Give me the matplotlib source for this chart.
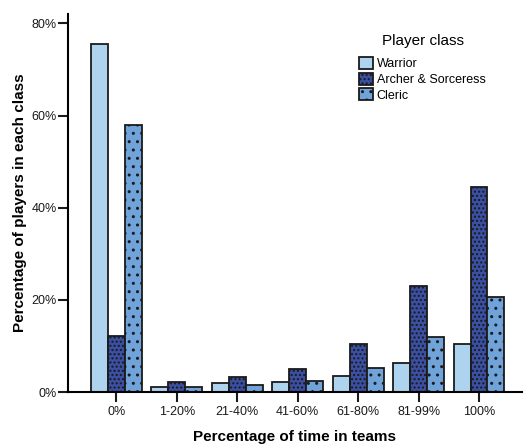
import numpy as np
import matplotlib.pyplot as plt
from matplotlib.ticker import PercentFormatter

plt.rcParams['font.family'] = ['Liberation Sans', 'DejaVu Sans']
plt.rcParams['hatch.linewidth'] = 1.0

categories = ['0%', '1-20%', '21-40%', '41-60%', '61-80%', '81-99%', '100%']
warrior = [75.5, 1.0, 1.9, 2.2, 3.4, 6.2, 10.5]
archer = [12.1, 2.2, 3.2, 5.0, 10.4, 23.1, 44.4]
cleric = [57.9, 1.0, 1.5, 2.5, 5.2, 11.9, 20.6]

series = [
    ('Warrior', warrior, '#aed3ef', None),
    ('Archer & Sorceress', archer, '#3b50a3', '....'),
    ('Cleric', cleric, '#6fa3da', '..'),
]

fig = plt.figure(figsize=(5.26, 4.44), dpi=100)
ax = fig.add_axes([0.1293, 0.117, 0.863, 0.851])

x = np.arange(len(categories))
w = 0.28
for i, (name, vals, color, hatch) in enumerate(series):
    ax.bar(x + (i - 1) * w, vals, w, color=color, edgecolor='#1a1a1a',
           linewidth=1.3, hatch=hatch, label=name)

ax.set_xlim(-0.8, 6.71)
ax.set_ylim(0, 82)
ax.set_yticks([0, 20, 40, 60, 80])
ax.yaxis.set_major_formatter(PercentFormatter(decimals=0))
ax.set_xticks(x)
ax.set_xticklabels(categories)

for side in ['top', 'right']:
    ax.spines[side].set_visible(False)
for side in ['left', 'bottom']:
    ax.spines[side].set_linewidth(1.5)
ax.tick_params(axis='both', length=7, width=1.5, labelsize=9, colors='#1a1a1a')
ax.tick_params(axis='x', pad=3)
ax.tick_params(axis='y', pad=1)

ax.set_xlabel('Percentage of time in teams', fontsize=11, fontweight='bold', labelpad=9)
ax.set_ylabel('Percentage of players in each class', fontsize=11, fontweight='bold', labelpad=3)

leg = ax.legend(title='Player class', loc='upper left', bbox_to_anchor=(0.628, 0.963),
                frameon=False, fontsize=9, title_fontsize=11, borderpad=0,
                handlelength=1.1, handleheight=1.1, handletextpad=0.3,
                labelspacing=0.2)
leg._legend_box.sep = 6

fig.savefig('out.png', dpi=100)
